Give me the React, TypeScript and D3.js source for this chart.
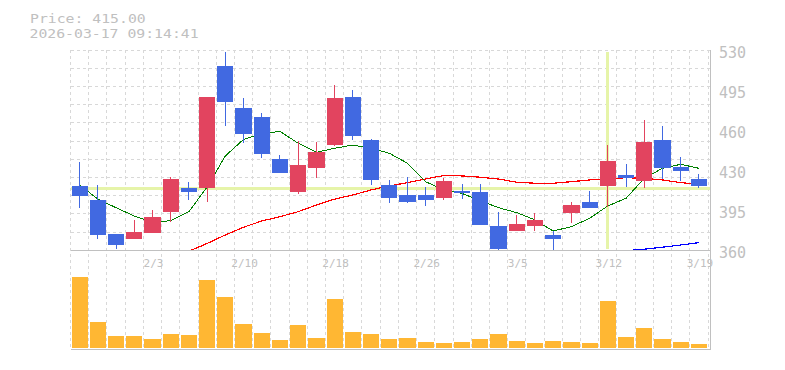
import React from 'react';
import * as d3 from 'd3';

// trading days shown on the chart
const dates = [
  '1/28', '1/29', '1/30', '2/2', '2/3', '2/4', '2/5', '2/6', '2/9', '2/10',
  '2/12', '2/13', '2/16', '2/17', '2/18', '2/19', '2/20', '2/24', '2/25', '2/26',
  '2/27', '3/2', '3/3', '3/4', '3/5', '3/6', '3/9', '3/10', '3/11', '3/12',
  '3/13', '3/16', '3/17', '3/18', '3/19',
];

const opens = [
  417, 405, 376.1, 371.9, 377, 394.9, 415.3, 415.5, 519, 483.2,
  475.5, 439.9, 412.1, 432.5, 451.8, 492.5, 456, 417.8, 409.3, 409.3,
  407, 412.7, 411.8, 382.9, 378.7, 383.2, 375.3, 394.2, 403.3, 417.2,
  426.3, 421.4, 456, 433.1, 422.9,
];
const highs = [
  437.3, 417.8, 376.1, 388, 396.5, 424.6, 420.3, 492.5, 531, 491.7,
  479, 443.3, 455.2, 454.3, 502.8, 498.5, 456.9, 422, 424.8, 416.3,
  424, 418.6, 418.6, 395.1, 392.3, 394, 378.7, 403.3, 412.7, 451.8,
  435.6, 473, 467.9, 441.6, 427.1,
];
const lows = [
  398.5, 371.9, 363.4, 371.9, 377, 386.5, 405, 403.5, 468.2, 453.7,
  441, 428.2, 410.4, 424, 450.9, 456, 417.8, 402.7, 402.7, 400.2,
  405.3, 406.1, 384, 361.9, 378.7, 378.7, 361.9, 385.7, 398.5, 399.3,
  416.3, 415.5, 422.6, 421.4, 415.5,
];
const closes = [
  408.8, 375.3, 366.8, 377.9, 390.6, 422.9, 411.8, 492.5, 488.5, 461.4,
  444.5, 428.2, 434.8, 445.8, 491.7, 459.4, 422, 407, 403.5, 405.3,
  421.2, 411.2, 384, 363.4, 384.6, 388, 372.1, 400.8, 398.5, 438.2,
  423.7, 454.3, 431.9, 429.9, 417.2,
];
// volume, thousand shares
const volumes = [
  727, 268, 122, 122, 92, 143, 133, 694, 520, 248,
  153, 82, 235, 102, 500, 163, 143, 92, 102, 61,
  51, 61, 92, 143, 71, 51, 71, 61, 51, 479,
  112, 204, 92, 61, 41,
];

// moving averages (null = not drawn)
const ma5 = [
  417.8, 405.9, 398.5, 391.5, 386.1, 387.5, 395.1, 416.1, 442.5, 456.6,
  461.2, 463.4, 453.3, 445.6, 449, 451.8, 449, 444.8, 436.3, 420.6,
  413.6, 410.6, 404.5, 398.5, 394.3, 388.1, 378.7, 382.4, 389.5, 400,
  406.5, 423.5, 432, 435.4, 432,
];
const ma25 = [
  null, null, null, null, null, null, 361.5, 368.1, 375.3, 381.9,
  387.2, 390.9, 395.1, 400.8, 405.8, 409.3, 413.6, 417, 419.8, 422.9,
  425.9, 425.5, 424.4, 422.9, 420.1, 419.3, 419.3, 420.6, 422.1, 422.9,
  424, 423.5, 422.1, 419.8, 418.4,
];
const ma75 = [
  null, null, null, null, null, null, null, null, null, null,
  null, null, null, null, null, null, null, null, null, null,
  null, null, null, null, null, null, null, null, null, null,
  362, 363.2, 364.9, 366.8, 368.8,
];

const yTickValues = [530, 496, 462, 428, 394, 360];
const yTickLabels = ['530', '495', '460', '430', '395', '360'];

const cursorDate = '3/12';
const cursorPrice = 415;
const stamp = '2026-03-17 09:14:41';

const upColor = '#e2445f';
const downColor = '#4169e1';
const textColor = '#c0c0c0';
const font = '"DejaVu Sans Mono", monospace';

export default function App() {
  const width = 785;
  const height = 370;
  const left = 70.5;
  const right = 708;
  const top = 50;

  const x = d3.scaleBand<number>().domain(d3.range(dates.length)).range([left, right]);
  const bw = x.bandwidth();
  const priceBottom = top + 11 * bw;
  const volBottom = 349.5;
  const border = 710.5;

  const y = d3.scaleLinear().domain([360, 530]).range([253, 53]);
  const yv = d3.scaleLinear().domain([0, 1000]).range([348, 250]);
  const cx = (i: number) => (x(i) as number) + bw / 2;

  const line = d3
    .line<number | null>()
    .defined((d) => d != null)
    .x((_, i) => cx(i))
    .y((d) => y(d as number));

  const xTicks = d3.range(dates.length).filter((i) => i % 5 === 4);
  const cursorIdx = dates.indexOf(cursorDate);

  const priceText = 'Price: ' + cursorPrice.toFixed(2);

  return (
    <svg
      width={width}
      height={height}
      style={{ position: 'absolute', left: 0, top: 0, background: '#fff' }}
    >
      <defs>
        <clipPath id="price-clip">
          <rect x={left} y={top} width={border - left} height={priceBottom - top} />
        </clipPath>
      </defs>

      {/* dashed grid */}
      <g stroke="#d8d8d8" strokeDasharray="3,3" shapeRendering="crispEdges">
        {d3.range(dates.length + 1).map((k) => (
          <line key={'v' + k} x1={left + k * bw} x2={left + k * bw} y1={top} y2={volBottom} />
        ))}
        {d3.range(11).map((k) => (
          <line key={'h' + k} x1={left} x2={border} y1={top + k * bw} y2={top + k * bw} />
        ))}
      </g>

      {/* crosshair */}
      <g stroke="#e6f4a9" strokeWidth={3} shapeRendering="crispEdges">
        <line x1={left} x2={border} y1={y(cursorPrice)} y2={y(cursorPrice)} />
        <line x1={cx(cursorIdx)} x2={cx(cursorIdx)} y1={top + 1.5} y2={priceBottom - 1.5} />
      </g>

      {/* moving averages */}
      <g clipPath="url(#price-clip)" fill="none" shapeRendering="crispEdges">
        <path d={line(ma75) || ''} stroke="#0000ff" strokeWidth={1.2} />
        <path d={line(ma25) || ''} stroke="#ff0000" strokeWidth={1.2} />
        <path d={line(ma5) || ''} stroke="#008000" strokeWidth={1} />
      </g>

      {/* candles */}
      <g clipPath="url(#price-clip)" shapeRendering="crispEdges">
        {dates.map((d, i) => {
          const c = closes[i] >= opens[i] ? upColor : downColor;
          const yTop = y(Math.max(opens[i], closes[i]));
          const yBot = y(Math.min(opens[i], closes[i]));
          const wx = Math.floor(cx(i)) + 0.5;
          return (
            <g key={d}>
              <line x1={wx} x2={wx} y1={y(highs[i])} y2={y(lows[i])} stroke={c} />
              <rect
                x={(x(i) as number) + 1}
                y={yTop}
                width={bw - 2}
                height={Math.max(1, yBot - yTop)}
                fill={c}
              />
            </g>
          );
        })}
      </g>

      {/* volume */}
      <g fill="#ffb733" shapeRendering="crispEdges">
        {volumes.map((v, i) => (
          <rect key={i} x={(x(i) as number) + 1} y={yv(v)} width={bw - 2} height={yv(0) - yv(v)} />
        ))}
      </g>

      {/* panel borders */}
      <g stroke="#c0c0c0" shapeRendering="crispEdges">
        <line x1={left} x2={border} y1={priceBottom} y2={priceBottom} />
        <line x1={left} x2={border} y1={volBottom} y2={volBottom} />
        <line x1={border} x2={border} y1={top} y2={volBottom} />
      </g>

      {/* axis labels */}
      <g fill={textColor} fontFamily={font}>
        {yTickValues.map((v, i) => (
          <text key={v} x={719} y={y(v) + 5.3} fontSize={15}>
            {yTickLabels[i]}
          </text>
        ))}
        {xTicks.map((i) => (
          <text key={i} x={cx(i) + 1} y={266.5} fontSize={11} textAnchor="middle">
            {dates[i]}
          </text>
        ))}
        <text
          x={30}
          y={23.3}
          fontSize={12.4}
          textLength={priceText.length * 8.9}
          lengthAdjust="spacingAndGlyphs"
        >
          {priceText}
        </text>
        <text
          x={29.5}
          y={37.7}
          fontSize={12.4}
          textLength={stamp.length * 8.9}
          lengthAdjust="spacingAndGlyphs"
        >
          {stamp}
        </text>
      </g>
    </svg>
  );
}
